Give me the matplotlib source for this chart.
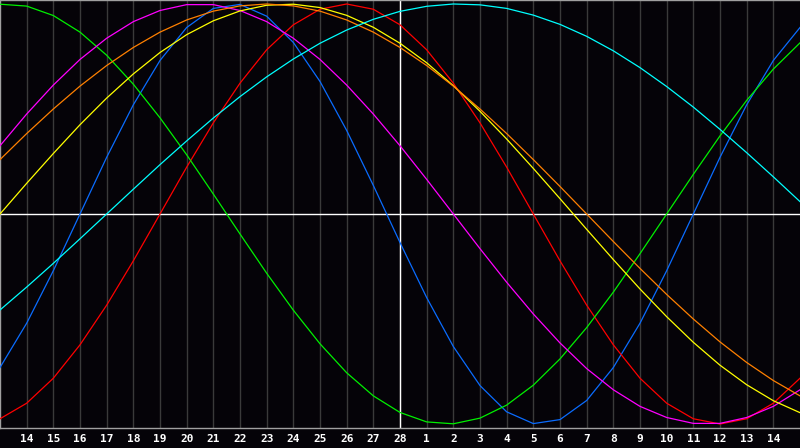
"""
Biorhythm chart: seven cycles around day 28, one value per day (in %).
"""

import matplotlib
matplotlib.use("Agg")
import matplotlib.pyplot as plt
import numpy as np

# day of month for every column of the chart (centre = 28)
days = [13, 14, 15, 16, 17, 18, 19, 20, 21, 22, 23, 24, 25, 26, 27, 28,
        1, 2, 3, 4, 5, 6, 7, 8, 9, 10, 11, 12, 13, 14, 15]
today = 28

# cycle values per day, percent
physical = [-73.1, -52.0, -27.0, 0.0, 27.0, 52.0, 73.1, 88.8, 97.9, 99.8,
            94.2, 81.7, 63.1, 39.8, 13.6, -13.6, -39.8, -63.1, -81.7, -94.2,
            -99.8, -97.9, -88.8, -73.1, -52.0, -27.0, 0.0, 27.0, 52.0, 73.1, 88.8]
emotional = [-97.5, -90.1, -78.2, -62.3, -43.4, -22.3, 0.0, 22.3, 43.4, 62.3,
             78.2, 90.1, 97.5, 100.0, 97.5, 90.1, 78.2, 62.3, 43.4, 22.3,
             0.0, -22.3, -43.4, -62.3, -78.2, -90.1, -97.5, -100.0, -97.5, -90.1, -78.2]
intellectual = [99.9, 99.0, 94.5, 86.6, 75.6, 61.8, 45.8, 28.2, 9.5, -9.5,
                -28.2, -45.8, -61.8, -75.6, -86.6, -94.5, -99.0, -99.9, -97.2, -91.0,
                -81.5, -69.0, -54.1, -37.2, -18.9, 0.0, 18.9, 37.2, 54.1, 69.0, 81.5]
intuitive = [32.5, 47.6, 61.4, 73.6, 83.7, 91.6, 96.9, 99.7, 99.7, 96.9,
             91.6, 83.7, 73.6, 61.4, 47.6, 32.5, 16.5, 0.0, -16.5, -32.5,
             -47.6, -61.4, -73.6, -83.7, -91.6, -96.9, -99.7, -99.7, -96.9, -91.6, -83.7]
aesthetic = [0.0, 14.6, 28.8, 42.5, 55.2, 66.7, 76.9, 85.4, 92.0, 96.7,
             99.4, 99.9, 98.3, 94.6, 88.9, 81.3, 72.0, 61.1, 48.9, 35.7,
             21.7, 7.3, -7.3, -21.7, -35.7, -48.9, -61.1, -72.0, -81.3, -88.9, -94.6]
awareness = [25.9, 38.3, 50.0, 60.9, 70.7, 79.3, 86.6, 92.4, 96.6, 99.1,
             100.0, 99.1, 96.6, 92.4, 86.6, 79.3, 70.7, 60.9, 50.0, 38.3,
             25.9, 13.1, 0.0, -13.1, -25.9, -38.3, -50.0, -60.9, -70.7, -79.3, -86.6]
spiritual = [-45.7, -34.8, -23.5, -11.8, 0.0, 11.8, 23.5, 34.8, 45.7, 55.9,
             65.3, 73.8, 81.3, 87.6, 92.7, 96.5, 98.9, 100.0, 99.6, 97.9,
             94.7, 90.3, 84.6, 77.7, 69.7, 60.7, 50.9, 40.3, 29.2, 17.7, 5.9]

cycles = [
    (physical, "#0a6cff"),
    (emotional, "#ff0000"),
    (intellectual, "#00f000"),
    (intuitive, "#ff00ff"),
    (aesthetic, "#ffff00"),
    (awareness, "#ff8000"),
    (spiritual, "#00ffff"),
]

bg = "#050308"
fig = plt.figure(figsize=(8.0, 4.48), dpi=100, facecolor=bg)
ax = fig.add_axes([0.0, 20 / 448, 1.0, 428 / 448], facecolor=bg)

x = np.arange(len(days))
centre = days.index(today)

for xi in x[1:-1]:
    ax.axvline(xi, color="#3a3a3a", lw=1.0, zorder=1)
ax.axvline(centre, color="white", lw=1.0, zorder=2)
ax.axhline(0, color="white", lw=1.0, zorder=2)

for vals, col in cycles:
    ax.plot(x, vals, color=col, lw=0.9, zorder=3)

ax.set_xlim(0, len(days) - 1)
ax.set_ylim(-101.9, 101.9)
ax.set_yticks([])
ax.set_xticks(x[1:-1])
ax.set_xticklabels([str(d) for d in days[1:-1]], color="white",
                   fontsize=8, fontweight="bold", family="DejaVu Sans Mono")
ax.tick_params(axis="x", length=0, pad=4)

for side in ("top", "left", "bottom"):
    ax.spines[side].set_color("#a0a0a0")
    ax.spines[side].set_linewidth(1.0)
ax.spines["right"].set_visible(False)

fig.savefig("out.png", dpi=100, facecolor=bg)
